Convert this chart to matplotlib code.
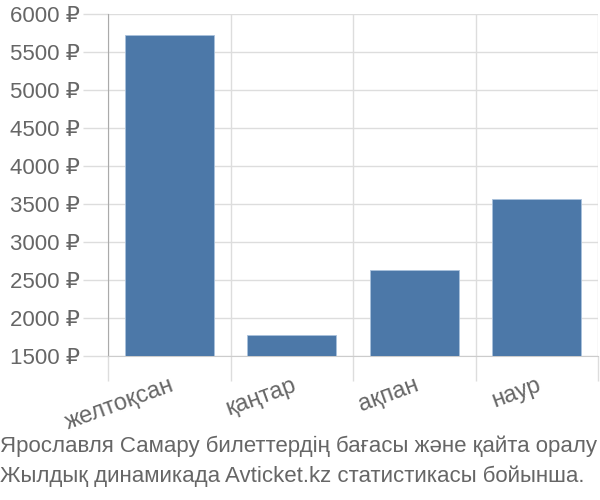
import matplotlib
matplotlib.use("Agg")
import matplotlib.pyplot as plt
import numpy as np

plt.rcParams['font.family'] = ['Liberation Sans', 'DejaVu Sans']

months = ['желтоқсан', 'қаңтар', 'ақпан', 'наур']
prices = [5730, 1773, 2633, 3561]
yticks = [1500, 2000, 2500, 3000, 3500, 4000, 4500, 5000, 5500, 6000]
caption = ['Ярославля Самару билеттердің бағасы және қайта оралу',
           'Жылдық динамикада Avticket.kz статистикасы бойынша.']

txtcol = '#666666'
gridcol = '#dddddd'

fig = plt.figure(figsize=(6, 5), dpi=100)
ax = fig.add_axes([108/600, 1-356/500, 490/600, 342/500])

x = np.arange(len(months))
ax.bar(x, prices, width=0.73, bottom=0, color='#4c78a8', edgecolor='#a9c1dc',
       linewidth=0.6, zorder=3)

ax.set_xlim(-0.5, len(months) - 0.5)
ax.set_ylim(yticks[0], yticks[-1])

ax.set_yticks(yticks)
ax.set_yticklabels([f'{v} ₽' for v in yticks])
ax.set_xticks(x)
ax.set_xticklabels(months, rotation=20, ha='right', rotation_mode='anchor')
ax.set_xticks(np.arange(len(months) + 1) - 0.5, minor=True)

ax.tick_params(axis='x', which='major', length=0, pad=13, labelsize=17, labelcolor=txtcol)
ax.tick_params(axis='x', which='minor', length=18, width=1, color=gridcol)
ax.tick_params(axis='y', length=18, width=1, color=gridcol, pad=2, labelsize=16,
               labelcolor=txtcol)

ax.grid(axis='y', color=gridcol, linewidth=1, zorder=0)
ax.grid(axis='x', which='minor', color=gridcol, linewidth=1, zorder=0)

for s in ['top', 'right']:
    ax.spines[s].set_visible(False)
ax.spines['left'].set_color('#aaaaaa')
ax.spines['bottom'].set_color('#cccccc')

fig.text(0.0, 1-446/500, caption[0], fontsize=16, color=txtcol, va='center', ha='left')
fig.text(0.0, 1-476/500, caption[1], fontsize=16, color=txtcol, va='center', ha='left')

fig.savefig('out.png', dpi=100)
